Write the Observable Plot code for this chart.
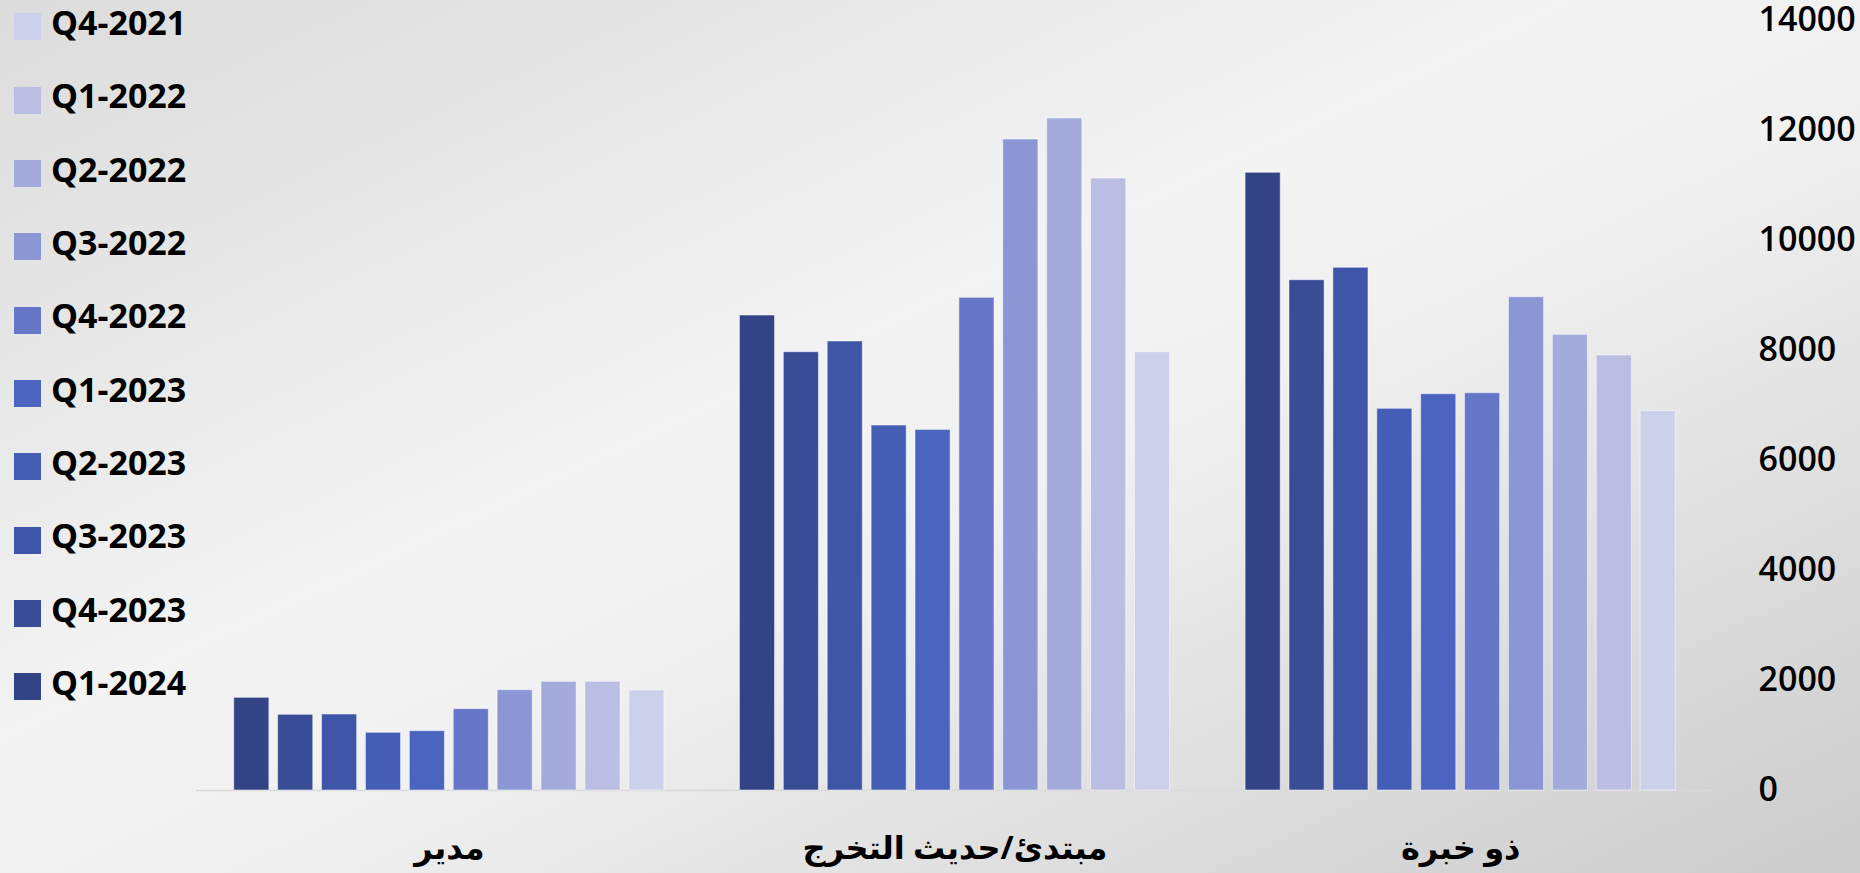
<!DOCTYPE html>
<html>
<head>
<meta charset="utf-8">
<script src="https://cdn.jsdelivr.net/npm/d3@7"></script>
<script src="https://cdn.jsdelivr.net/npm/@observablehq/plot@0.6"></script>
<style>
  html, body { margin: 0; padding: 0; overflow: hidden; }
  #wrap {
    position: relative; width: 1860px; height: 873px;
    background: linear-gradient(to bottom right, #dcdcdc 0%, #e5e5e5 18%, #f3f3f3 42%, #f1f1f1 55%, #dedede 78%, #cbcbcb 100%);
    font-family: "Open Sans", "Noto Sans", "DejaVu Sans", sans-serif;
  }
  #wrap > svg { position: absolute; left: 0; top: 0; overflow: visible; }
  .lg-swatches {
    position: absolute; left: 14px; top: -9.7px; margin: 0;
    font-family: "Open Sans", sans-serif; font-size: 34px; font-weight: 700; color: #000;
  }
  .lg-swatch { height: 73.33px; padding-bottom: 0 !important; }
  .lg-swatch > svg { margin-right: 10px !important; }
  .lg-swatch-label { position: relative; top: -5px; overflow: visible !important; }
</style>
</head>
<body>
<div id="wrap"></div>
<script>
const groups = ["مدير", "مبتدئ/حديث التخرج", "ذو خبرة"];
const quarters = ["Q4-2021", "Q1-2022", "Q2-2022", "Q3-2022", "Q4-2022", "Q1-2023", "Q2-2023", "Q3-2023", "Q4-2023", "Q1-2024"];
const colors = ["#ccd0ea", "#babee2", "#a2abdb", "#8a97d4", "#6677c9", "#4a64c0", "#445eb5", "#3f56a8", "#394c96", "#324386"];
// values in the order of quarters (Q4-2021 … Q1-2024)
const managerValues = [1818, 1976, 1976, 1824, 1479, 1079, 1049, 1382, 1376, 1685];
const juniorValues = [7969, 11127, 12218, 11836, 8958, 6556, 6636, 8164, 7969, 8636];
const experiencedValues = [6896, 7909, 8285, 8969, 7224, 7205, 6940, 9504, 9278, 11231];
const yTicks = [0, 2000, 4000, 6000, 8000, 10000, 12000, 14000];

const series = [managerValues, juniorValues, experiencedValues];
const data = groups.flatMap((g, gi) => quarters.map((q, qi) => ({group: g, quarter: q, value: series[gi][qi]})));

const chart = Plot.plot({
  width: 1860,
  height: 873,
  marginLeft: 196,
  marginRight: 147,
  marginTop: 20,
  marginBottom: 83,
  style: {background: "transparent", fontFamily: "'Open Sans', 'Noto Sans', 'DejaVu Sans', sans-serif", color: "#000", overflow: "visible"},
  fx: {domain: groups, padding: 0, round: false, label: null},
  x: {domain: quarters.slice().reverse(), paddingInner: 0.2, paddingOuter: 0.86, round: false, axis: null},
  y: {domain: [0, 14000], label: null},
  color: {domain: quarters, range: colors},
  marks: [
    Plot.ruleY([0], {stroke: "#d9d9d9", strokeWidth: 1.5}),
    Plot.barY(data, {fx: "group", x: "quarter", y: "value", fill: "quarter", stroke: "#ffffff", strokeOpacity: 0.5, strokeWidth: 1}),
    Plot.axisY(yTicks, {anchor: "right", tickSize: 0, tickPadding: 45, tickFormat: d => String(d), fontSize: 34, fontWeight: 600, fill: "#000", label: null}),
    Plot.axisFx({anchor: "bottom", tickSize: 0, tickPadding: 46, fontSize: 32, fontWeight: 700, fill: "#000", label: null})
  ]
});

const wrap = document.getElementById("wrap");
wrap.appendChild(chart);
const legend = chart.legend("color", {columns: 1, swatchSize: 27, className: "lg"});
wrap.appendChild(legend);
</script>
</body>
</html>
